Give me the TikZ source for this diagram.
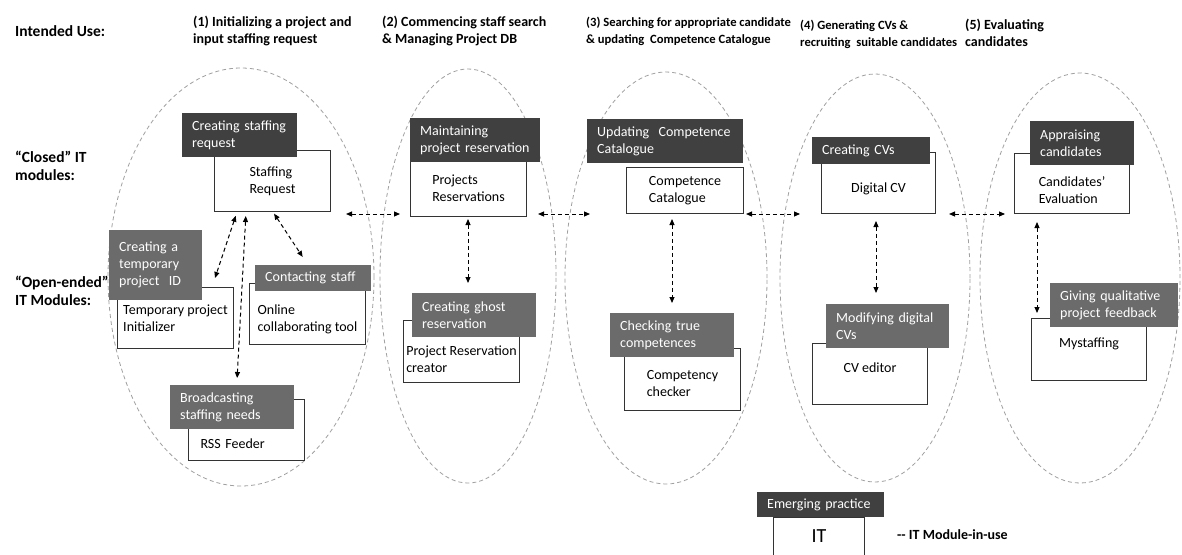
\documentclass[tikz,border=0pt]{standalone}
\usepackage{fontspec}
\setmainfont{Carlito}
\usepackage{tikz}
\usetikzlibrary{positioning, arrows.meta, calc}

\definecolor{closedgray}{HTML}{404040}
\definecolor{opengray}{HTML}{6B6B6B}
\definecolor{zonegray}{HTML}{A0A0A0}

\begin{document}
\begin{tikzpicture}[
    x=1pt, y=-1pt,
    every node/.style={align=left, inner sep=0pt, font=\fontsize{14}{17}\selectfont},
    head/.style={anchor=north west, font=\bfseries\fontsize{14}{17}\selectfont},
    side/.style={anchor=north west, font=\bfseries\fontsize{15.5}{18}\selectfont},
    zone/.style={draw=zonegray, dash pattern=on 4pt off 3pt, line width=0.8pt},
    itbox/.style={draw=black!80, fill=white, line width=1pt, anchor=north west, minimum width=116pt, minimum height=61pt},
    usebox/.style={fill=closedgray, text=white, anchor=north west, inner xsep=10pt, minimum height=44pt, text width=#1},
    openuse/.style={usebox=#1, fill=opengray},
    link/.style={<->, >={Triangle[length=6pt, width=5pt]}, dash pattern=on 4pt off 3pt, line width=1pt}
]
\useasboundingbox (0,0) rectangle (1182,554);
\fill[white] (0,0) rectangle (1182,554);

% 标题
\node[side] (intended) at (15,25) {Intended Use:};
\node[head] (stage1) at (193,16) {(1) Initializing a project and\\input staffing request};
\node[head] (stage2) at (382,16) {(2) Commencing staff search\\\& Managing Project DB};
\node[head, font=\bfseries\fontsize{12.6}{17}\selectfont] (stage3) at (586,17) {(3) Searching for appropriate candidate\\\& updating~~Competence Catalogue};
\node[head, font=\bfseries\fontsize{12.6}{17}\selectfont] (stage4) at (800,20) {(4) Generating CVs \&\\recruiting~~suitable candidates};
\node[head] (stage5) at (965,19) {(5) Evaluating\\candidates};
\node[side] (closedlbl) at (15,151) {“Closed” IT\\modules:};
\node[side] (openlbl) at (15,276) {“Open-ended”\\IT Modules:};

% 阶段范围
\draw[zone] (241,277) ellipse [x radius=133pt, y radius=209pt];
\draw[zone] (468,276) ellipse [x radius=88pt, y radius=207pt];
\draw[zone] (666,278) ellipse [x radius=101pt, y radius=206pt];
\draw[zone] (875,278) ellipse [x radius=95pt, y radius=204pt];
\draw[zone] (1080,278) ellipse [x radius=100pt, y radius=205pt];

% 阶段 (1)
\node[itbox] (staffreq) at (214,150) {Staffing\\Request};
\node[usebox=95pt] (mkstaff) at (182,113) {Creating~staffing\\request};
\node[itbox] (tempinit) at (117,287) {Temporary project\\Initializer};
\node[openuse=73pt, minimum height=70pt] (mktemp) at (109,230) {Creating a\\temporary\\project~~ID};
\node[itbox, text height=36pt, text depth=2pt] (online) at (249,283) {Online\\collaborating tool};
\node[openuse=96pt, minimum height=26pt] (contact) at (255,265) {Contacting~staff};
\node[itbox, text width=92pt, text height=40pt, text depth=4pt] (rss) at (188,399) {RSS Feeder};
\node[openuse=104pt] (broadcast) at (170,385) {Broadcasting\\staffing needs};

% 阶段 (2)
\node[itbox, minimum height=56pt] (projres) at (410,160) {Projects\\Reservations};
\node[usebox=110pt] (maintain) at (410,118) {Maintaining\\project~reservation};
\node[itbox, minimum height=62pt, text height=42pt, text depth=1pt] (prescreator) at (403,320) {Project Reservation\\creator};
\node[openuse=104pt] (ghost) at (412,293) {Creating ghost\\reservation};

% 阶段 (3)
\node[itbox, minimum width=117pt, minimum height=46pt] (compcat) at (626,167) {Competence\\Catalogue};
\node[usebox=136pt] (updcat) at (587,119) {Updating~~Competence\\Catalogue};
\node[itbox, minimum height=62pt, text height=35pt, text depth=2pt] (checker) at (624,348) {Competency\\checker};
\node[openuse=104pt] (checkuse) at (610,313) {Checking true\\competences};

% 阶段 (4)
\node[itbox, minimum width=114pt, text height=20pt, text depth=2pt] (digcv) at (821,152) {Digital CV};
\node[usebox=98pt, minimum height=27pt] (mkcv) at (812,137) {Creating~CVs};
\node[itbox, minimum width=115pt, text height=10pt, text depth=14pt] (cvedit) at (812,343) {CV editor};
\node[openuse=103pt] (moduse) at (826,304) {Modifying~digital\\CVs};

% 阶段 (5)
\node[itbox, minimum width=115pt, minimum height=60pt, text height=40pt, text depth=1pt] (candeval) at (1014,153) {Candidates’\\Evaluation};
\node[usebox=84pt] (appraise) at (1030,121) {Appraising\\candidates};
\node[itbox, minimum width=115pt, minimum height=62pt, text height=10pt, text depth=15pt] (mystaff) at (1031,318) {Mystaffing};
\node[openuse=108pt] (feedback) at (1050,283) {Giving~qualitative\\project~feedback};

% 模块之间
\draw[link, shorten <=15pt, shorten >=10pt] ([yshift=-2pt]staffreq.south east) -- ([yshift=3pt]projres.south west);
\draw[link, shorten <=11pt, shorten >=36pt] ([yshift=3pt]projres.south east) -- (compcat.south west);
\draw[link, shorten <=2pt, shorten >=21pt] (compcat.south east) -- (digcv.south west);
\draw[link, shorten <=13pt, shorten >=9pt] (digcv.south east) -- (candeval.south west);

% 封闭模块 - 开放模块
\draw[link, shorten <=4pt, shorten >=9.5pt] ([xshift=23pt]staffreq.south west) -- ([xshift=95pt]tempinit.north west);
\draw[link, shorten <=4pt, shorten >=21pt] ([xshift=32pt]staffreq.south west) -- ([xshift=48pt]rss.north west);
\draw[link, shorten <=2pt, shorten >=9.7pt] ([xshift=59pt]staffreq.south west) -- ([xshift=53pt]contact.north west);
\draw[link, shorten <=2pt, shorten >=10pt] ([xshift=58pt]projres.south west) -- ([xshift=56pt]ghost.north west);
\draw[link, shorten <=5pt, shorten >=10pt] ([xshift=46pt]compcat.south west) -- ([xshift=62pt]checkuse.north west);
\draw[link, shorten <=7pt, shorten >=11pt] ([xshift=55pt]digcv.south west) -- ([xshift=50pt]moduse.north west);
\draw[link, shorten <=8pt, shorten >=5pt] ([xshift=23pt]candeval.south west) -- ([xshift=6pt]mystaff.north west);

% 图例
\node[itbox, minimum width=91pt, minimum height=60pt, font=\fontsize{20}{24}\selectfont, text height=14pt, text depth=25pt] (itlegend) at (773,517) {IT};
\node[usebox=107pt, minimum height=25pt] (emerging) at (757,492) {Emerging~practice};
\node[head, anchor=west] (legendtxt) at (897,535) {-{}- IT Module-in-use};

\end{tikzpicture}
\end{document}
